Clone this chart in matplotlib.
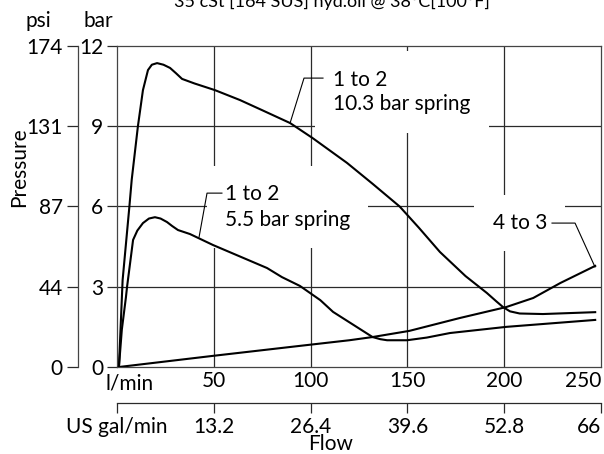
import numpy as np
import matplotlib
matplotlib.use("Agg")
import matplotlib.pyplot as plt

plt.rcParams['font.family'] = ['Lato', 'DejaVu Sans']
plt.rcParams['font.size'] = 15

# flow in l/min, pressure in bar
flow_103 = [1, 2.9, 6.4, 7.6, 10.8, 13.4, 16, 18, 20.7, 24, 27.4, 30.5, 33.6, 40,
            50.6, 63.5, 75, 89.4, 101, 118.8, 132, 146, 156, 166.8, 180, 191,
            196, 199.4, 203, 208, 220, 247]
press_103 = [0, 3.25, 6.0, 7.0, 9.0, 10.35, 11.1, 11.3, 11.36, 11.3, 11.18, 10.98,
             10.77, 10.6, 10.35, 9.98, 9.6, 9.12, 8.56, 7.63, 6.85, 6.0, 5.2, 4.3,
             3.4, 2.77, 2.45, 2.24, 2.08, 2.0, 1.98, 2.05]

flow_55 = [1, 2.5, 4.6, 5.2, 8.3, 10.5, 13.4, 16.5, 19.6, 22.5, 25.8, 28.5, 31.5,
           37.7, 49.6, 77.5, 85.2, 94.5, 105, 111.6, 132, 136, 139.5, 149.8, 160,
           172, 201, 247]
press_55 = [0, 1.4, 2.6, 3.0, 4.75, 5.1, 5.38, 5.55, 5.6, 5.55, 5.42, 5.27, 5.12,
            4.97, 4.56, 3.7, 3.36, 3.03, 2.5, 2.06, 1.12, 1.04, 1.0, 1.0, 1.1,
            1.27, 1.5, 1.76]

flow_43 = [1, 50, 94.5, 120, 132, 151, 177, 201, 215, 229, 247]
press_43 = [0, 0.42, 0.79, 1.0, 1.12, 1.35, 1.83, 2.24, 2.58, 3.14, 3.78]

lmin_ticks = [0, 50, 100, 150, 200, 250]
lmin_labels = ['l/min', '50', '100', '150', '200', '250']
gal_ticks = [0, 13.2, 26.4, 39.6, 52.8, 66]
gal_labels = ['US gal/min', '13.2', '26.4', '39.6', '52.8', '66']
bar_ticks = [0, 3, 6, 9, 12]
psi_labels = ['0', '44', '87', '131', '174']

grid_c = '#2a2a2a'

fig = plt.figure(figsize=(6.04, 4.54), dpi=100)
ax = fig.add_axes([117 / 604, 1 - 367 / 454, 484 / 604, 321 / 454])
ax.set_xlim(0, 250)
ax.set_ylim(0, 12)

for q in lmin_ticks[1:-1]:
    ax.axvline(q, color=grid_c, lw=0.9, zorder=1)
for b in bar_ticks[1:-1]:
    ax.axhline(b, color=grid_c, lw=0.9, zorder=1)

for s in ax.spines.values():
    s.set_color('#444444')
    s.set_linewidth(0.9)

ax.plot(flow_103, press_103, color='black', lw=1.5, zorder=4)
ax.plot(flow_55, press_55, color='black', lw=1.5, zorder=4)
ax.plot(flow_43, press_43, color='black', lw=1.5, zorder=4)

box = dict(facecolor='white', edgecolor='none', pad=13)

# labels with leader lines
ax.text(111.6, 10.28, '1 to 2\n10.3 bar spring', ha='left', va='center',
        linespacing=1.3, bbox=box, zorder=3)
ax.plot([89.4, 96.6, 106.4], [9.12, 10.8, 10.8], color='black', lw=0.8, zorder=4)

ax.text(55.8, 5.98, '1 to 2\n5.5 bar spring', ha='left', va='center',
        linespacing=1.35, bbox=box, zorder=3)
ax.plot([42.4, 46.5, 54.2], [4.86, 6.5, 6.5], color='black', lw=0.8, zorder=4)

ax.text(222.1, 5.38, '4 to 3', ha='right', va='center', bbox=box, zorder=3)
ax.plot([224.7, 236.6, 246.9], [5.38, 5.38, 3.74], color='black', lw=0.8, zorder=4)

# bottom l/min axis
ax.set_xticks(lmin_ticks, labels=[''] + lmin_labels[1:])
ax.tick_params(axis='x', length=0, pad=3)
xl = ax.get_xticklabels()
xl[-1].set_ha('right')
ax.text(lmin_ticks[0] - 6, -0.05, lmin_labels[0], transform=ax.get_xaxis_transform(),
        ha='left', va='center')

# bar axis
ax.set_yticks(bar_ticks)
ax.tick_params(axis='y', length=7, width=0.9, color=grid_c, pad=3)

# US gal/min axis
sec = ax.secondary_xaxis(-0.112, functions=(lambda q: q * 0.264, lambda g: g / 0.264))
sec.set_xticks(gal_ticks, labels=gal_labels)
sec.tick_params(axis='x', length=7, width=0.9, color=grid_c, pad=3)
sec.spines['bottom'].set_color(grid_c)
sec.spines['bottom'].set_linewidth(0.9)
gl = sec.get_xticklabels()
gl[-1].set_ha('right')

# psi axis
psi = ax.secondary_yaxis(-0.0806, functions=(lambda b: b * 14.5, lambda p: p / 14.5))
psi.set_yticks([b * 14.5 for b in bar_ticks], labels=psi_labels)
psi.tick_params(axis='y', length=8, width=0.9, color=grid_c, pad=3)
psi.spines['left'].set_color('#444444')
psi.spines['left'].set_linewidth(0.9)

fig.text(38 / 604, 1 - 21 / 454, 'psi', ha='center', va='center')
fig.text(98 / 604, 1 - 21 / 454, 'bar', ha='center', va='center')
fig.text(19 / 604, 1 - 167 / 454, 'Pressure', rotation=90, ha='center', va='center')
fig.text(331 / 604, 1 - 444 / 454, 'Flow', ha='center', va='center')
fig.text(332 / 604, 1 - 7 / 454, '35 cSt [164 SUS] hyd.oil @ 38°C[100°F]',
         ha='center', va='baseline', fontsize=13)

fig.savefig('out.png', dpi=100)
